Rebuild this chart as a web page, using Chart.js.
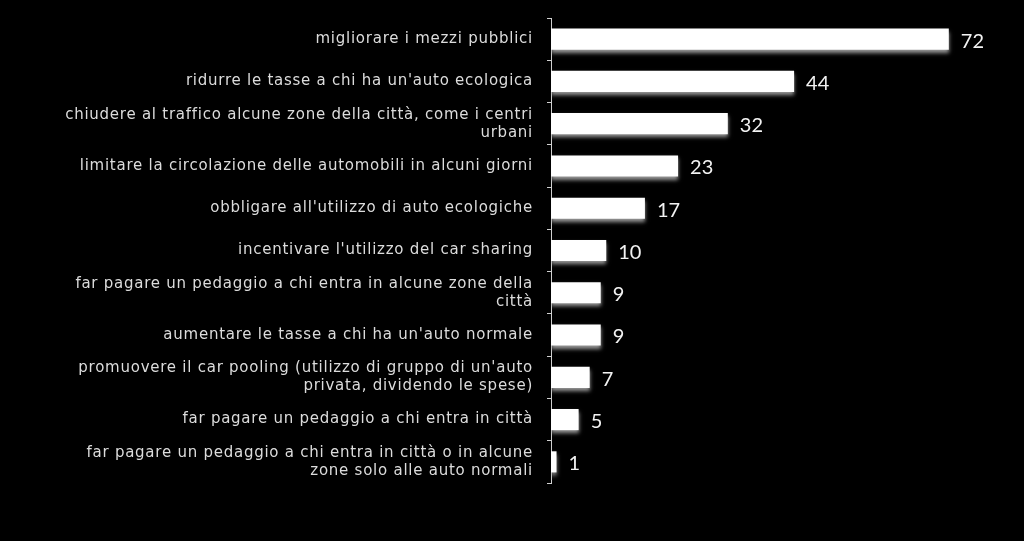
<!DOCTYPE html>
<html>
<head>
<meta charset="utf-8">
<script src="https://cdn.jsdelivr.net/npm/chart.js@4"></script>
<style>
  html, body { margin: 0; padding: 0; background: #000; }
  #wrap { width: 1024px; height: 541px; }
</style>
</head>
<body>
<div id="wrap"><canvas id="chart" width="1024" height="541"></canvas></div>
<script>
const categories = [
  'migliorare i mezzi pubblici',
  "ridurre le tasse a chi ha un'auto ecologica",
  ['chiudere al traffico alcune zone della città, come i centri', 'urbani'],
  'limitare la circolazione delle automobili in alcuni giorni',
  "obbligare all'utilizzo di auto ecologiche",
  "incentivare l'utilizzo del car sharing",
  ['far pagare un pedaggio a chi entra in alcune zone della', 'città'],
  "aumentare le tasse a chi ha un'auto normale",
  ["promuovere il car pooling (utilizzo di gruppo di un'auto", 'privata, dividendo le spese)'],
  'far pagare un pedaggio a chi entra in città',
  ['far pagare un pedaggio a chi entra in città o in alcune', 'zone solo alle auto normali']
];
const values = [72, 44, 32, 23, 17, 10, 9, 9, 7, 5, 1];

const fontFamily = "'DejaVu Sans', sans-serif";

// the original font is wider, spread the letters a bit
const spacing = {
  id: 'spacing',
  beforeUpdate(chart) { chart.ctx.letterSpacing = '0.75px'; },
  beforeDraw(chart) { chart.ctx.letterSpacing = '0.75px'; }
};

const barShadow = {
  id: 'barShadow',
  beforeDatasetDraw(chart) {
    const ctx = chart.ctx;
    ctx.save();
    ctx.shadowColor = 'rgba(170,170,170,0.9)';
    ctx.shadowBlur = 4;
    ctx.shadowOffsetX = 0;
    ctx.shadowOffsetY = 3;
  },
  afterDatasetDraw(chart) {
    chart.ctx.restore();
  }
};

const valueLabels = {
  id: 'valueLabels',
  afterDatasetsDraw(chart) {
    const ctx = chart.ctx;
    const meta = chart.getDatasetMeta(0);
    ctx.save();
    ctx.letterSpacing = '0px';
    ctx.fillStyle = '#f2f2f2';
    ctx.font = "20px 'Lato', sans-serif";
    ctx.textAlign = 'left';
    ctx.textBaseline = 'middle';
    meta.data.forEach((bar, i) => {
      ctx.fillText(String(values[i]), bar.x + 12, bar.y + 2);
    });
    ctx.restore();
  }
};

const chart = new Chart(document.getElementById('chart'), {
  type: 'bar',
  data: {
    labels: categories,
    datasets: [{
      data: values,
      backgroundColor: '#ffffff',
      borderWidth: 0,
      barPercentage: 0.5,
      categoryPercentage: 1
    }]
  },
  options: {
    indexAxis: 'y',
    responsive: false,
    animation: false,
    layout: { padding: { top: 18, bottom: 58, right: 31, left: 0 } },
    plugins: { legend: { display: false }, tooltip: { enabled: false } },
    scales: {
      x: { display: false, min: 0, max: 80 },
      y: {
        afterFit(scale) {
          scale.width = 551;
          scale.paddingTop = 0;
          scale.paddingBottom = 0;
        },
        border: { display: true, color: '#d0d0d0', width: 1 },
        grid: {
          offset: true,
          drawOnChartArea: false,
          tickLength: 4,
          color: '#d0d0d0'
        },
        ticks: {
          color: '#dcdcdc',
          padding: 14,
          font: { family: fontFamily, size: 15 }
        }
      }
    }
  },
  plugins: [spacing, barShadow, valueLabels]
});
</script>
</body>
</html>
